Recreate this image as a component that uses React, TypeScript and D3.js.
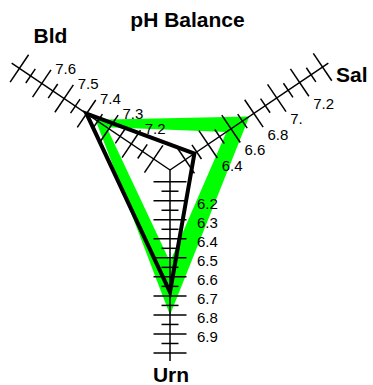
import React from "react";
import * as d3 from "d3";

// pH readings on three axes: blood, saliva, urine
const axisNames = ["Bld", "Sal", "Urn"];
const bldExtent = [7.1, 7.7];
const salExtent = [6.2, 7.4];
const urnExtent = [6.1, 7.0];
const bldLabels = ["7.2", "7.3", "7.4", "7.5", "7.6"];
const salLabels = ["6.4", "6.6", "6.8", "7.", "7.2"];
const urnLabels = ["6.2", "6.3", "6.4", "6.5", "6.6", "6.7", "6.8", "6.9"];

const measured = [7.4, 6.28, 6.68];
const normalHigh = [7.36, 6.76, 6.8];
const normalLow = [7.31, 6.56, 6.52];

const W = 373, H = 385;
const cx = 170, cy = 170, axisLen = 191;
const font = "'Liberation Sans', Arial, sans-serif";

// angle (deg, screen coords), radius range, label offset
const layout = [
  { angle: 214, r: [19.7, 181.7], lab: [13.5, -15], name: [50.5, 43, "middle"] },
  { angle: -34, r: [18.4, 184], lab: [13.5, 21], name: [336, 82, "start"] },
  { angle: 90, r: [11.7, 183], lab: [27, 3], name: [171, 382, "middle"] },
];
const extents = [bldExtent, salExtent, urnExtent];
const labels = [bldLabels, salLabels, urnLabels];

export default function App() {
  const axes = layout.map((l, i) => {
    const a = (l.angle * Math.PI) / 180;
    const ux = Math.cos(a), uy = Math.sin(a);
    const s = d3.scaleLinear().domain(extents[i]).range(l.r);
    const pt = (v: number): [number, number] => [cx + ux * s(v), cy + uy * s(v)];
    const step = (+labels[i][1] - +labels[i][0]) / 2;
    const n = Math.round((extents[i][1] - extents[i][0]) / step);
    const ticks = d3.range(n + 1).map((k) => ({ v: extents[i][0] + k * step, long: k % 2 === 0 }));
    return { ux, uy, s, pt, ticks, l };
  });

  const tri = (vals: number[]) => vals.map((v, i) => axes[i].pt(v));
  const line = d3.line();
  const band = line(tri(normalHigh)) + "Z" + line(tri(normalLow)) + "Z";
  const patient = line(tri(measured)) + "Z";

  return (
    <svg width={W} height={H} style={{ position: "absolute", left: 0, top: 0, background: "#fff" }}>
      <path d={band} fill="#00ff00" fillRule="evenodd" />
      {axes.map((ax, i) => (
        <g key={i} stroke="#000" strokeWidth={1.5}>
          <line x1={cx} y1={cy} x2={cx + ax.ux * axisLen} y2={cy + ax.uy * axisLen} />
          {ax.ticks.map((t, k) => {
            const [x, y] = ax.pt(t.v);
            const h = t.long ? 16.5 : 8.5;
            return <line key={k} x1={x + ax.uy * h} y1={y - ax.ux * h} x2={x - ax.uy * h} y2={y + ax.ux * h} />;
          })}
        </g>
      ))}
      <path d={patient} fill="none" stroke="#000" strokeWidth={4} strokeLinejoin="miter" />
      {axes.map((ax, i) =>
        labels[i].map((lb) => {
          const [x, y] = ax.pt(+lb);
          return (
            <text key={i + lb} x={x + ax.l.lab[0]} y={y + ax.l.lab[1]} fontFamily={font} fontSize={15}
              dominantBaseline="central" fill="#000">{lb}</text>
          );
        })
      )}
      {axes.map((ax, i) => (
        <text key={"n" + i} x={ax.l.name[0] as number} y={ax.l.name[1] as number}
          textAnchor={ax.l.name[2] as string} fontFamily={font} fontSize={21} fontWeight="bold">{axisNames[i]}</text>
      ))}
      <text x={187.5} y={27} textAnchor="middle" fontFamily={font} fontSize={21} fontWeight="bold">pH Balance</text>
    </svg>
  );
}
